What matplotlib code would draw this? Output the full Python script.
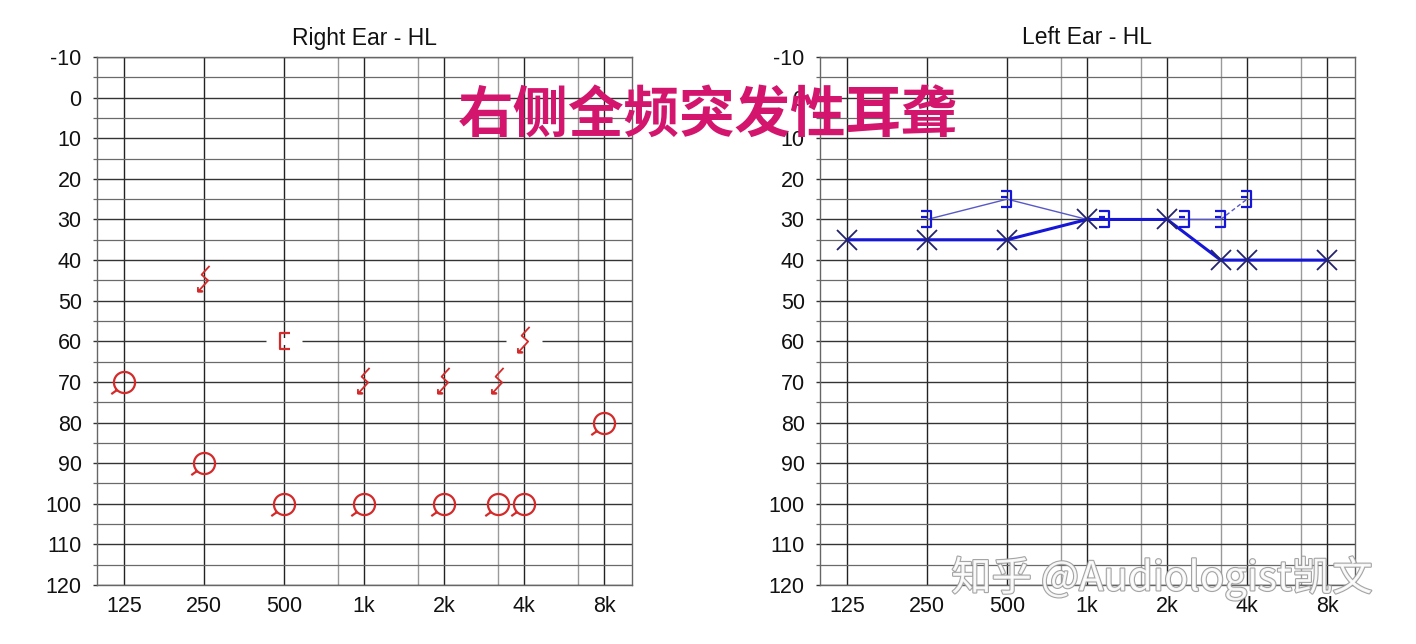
import numpy as np
import matplotlib
matplotlib.use('Agg')
import matplotlib.pyplot as plt
from matplotlib.path import Path
import matplotlib.transforms as mtransforms
import matplotlib.patheffects as pe

# ---- data ----
oct_freqs = [125, 250, 500, 1000, 2000, 4000, 8000]
oct_labels = ['125', '250', '500', '1k', '2k', '4k', '8k']
mid_freqs = [750, 1500, 3000, 6000]

# right ear (red)
r_ac_f = [125, 250, 500, 1000, 2000, 3000, 4000, 8000]
r_ac_db = [70, 90, 100, 100, 100, 100, 100, 80]
r_bc_nr_f = [250, 1000, 2000, 3000, 4000]
r_bc_nr_db = [45, 70, 70, 70, 60]
r_bc_m_f = [500]
r_bc_m_db = [60]

# left ear (blue)
l_ac_f = [125, 250, 500, 1000, 2000, 3000, 4000, 8000]
l_ac_db = [35, 35, 35, 30, 30, 40, 40, 40]
l_bc_f = [250, 500, 1000, 2000, 3000, 4000]
l_bc_db = [30, 25, 30, 30, 30, 25]
l_bc_shift = [False, False, True, True, False, False]   # drawn beside the X

title_txt = '右侧全频突发性耳聋'
mark_txt = '知乎 @Audiologist凯文'

RED = '#d42a2a'
BLUE = '#1616d8'
NAVY = '#23236e'


def xpos(f):
    # audiogram x scale: octaves 1 apart, half-octave lines drawn at 2/3
    o = np.log2(np.asarray(f, dtype=float) / 125.0)
    base = np.floor(o + 1e-9)
    return np.where(np.isclose(o, base), o, base + 0.67)


# custom marker shapes
circ = Path.unit_circle()
tail = Path([(-0.72, -0.72), (-1.25, -1.1)], [Path.MOVETO, Path.LINETO])
o_marker = Path.make_compound_path(circ, tail)

zig_marker = Path([(0.35, 1.0), (-0.2, 0.4), (0.25, 0.0), (-0.25, -0.55),
                   (-0.45, -0.75), (-0.15, -0.75), (-0.45, -0.75), (-0.45, -0.45)],
                  [Path.MOVETO] + [Path.LINETO] * 7)
lbr_marker = Path([(0.45, 0.6), (-0.3, 0.6), (-0.3, -0.6), (0.45, -0.6)],
                  [Path.MOVETO] + [Path.LINETO] * 3)
rbr_marker = Path([(-0.45, 0.6), (0.3, 0.6), (0.3, -0.6), (-0.45, -0.6),
                   (-0.45, 0.15), (0.0, 0.15)],
                  [Path.MOVETO, Path.LINETO, Path.LINETO, Path.LINETO,
                   Path.MOVETO, Path.LINETO])

plt.rcParams['font.family'] = ['Liberation Sans', 'DejaVu Sans']
plt.rcParams['axes.unicode_minus'] = False

fig = plt.figure(figsize=(14.16, 6.44), dpi=100)
ax_r = fig.add_axes([97 / 1416, 59 / 644, 535 / 1416, 528 / 644])
ax_l = fig.add_axes([820 / 1416, 59 / 644, 535 / 1416, 528 / 644])


def setup(ax, title):
    ax.set_xlim(-0.34, 6.35)
    ax.set_ylim(120, -10)
    ax.set_xticks(xpos(oct_freqs))
    ax.set_xticklabels(oct_labels)
    ax.set_xticks(xpos(mid_freqs), minor=True)
    ax.set_yticks(np.arange(-10, 121, 10))
    ax.set_yticks(np.arange(-5, 120, 10), minor=True)
    ax.grid(which='major', axis='x', color='#222222', lw=1.0)
    ax.grid(which='minor', axis='x', color='#9a9a9a', lw=1.0)
    ax.grid(which='major', axis='y', color='#333333', lw=1.0)
    ax.grid(which='minor', axis='y', color='#6a6a6a', lw=0.9)
    ax.set_axisbelow(True)
    ax.tick_params(axis='x', which='both', length=0, pad=8, labelsize=15.5,
                   colors='#111111')
    ax.tick_params(axis='y', which='major', length=3, width=1, pad=8,
                   labelsize=15.5, colors='#111111')
    ax.tick_params(axis='y', which='minor', length=3, width=0.9, color='#6a6a6a')
    ax.tick_params(axis='y', which='major', color='#333333')
    for s in ax.spines.values():
        s.set_color('#666666')
        s.set_linewidth(1.0)
    ax.set_title(title, fontsize=16.5, color='#111111', pad=9)


setup(ax_r, 'Right Ear - HL')
setup(ax_l, 'Left Ear - HL')

# ---- right ear ----
ax_r.plot(xpos(r_bc_m_f + [4000]), r_bc_m_db + [60], ls='none', marker='_',
          ms=26, mew=5, color='white', zorder=3)
ax_r.plot(xpos(r_ac_f), r_ac_db, ls='none', marker=o_marker, ms=19,
          mfc='none', mec=RED, mew=1.6, zorder=4)
ax_r.plot(xpos(r_bc_nr_f), r_bc_nr_db, ls='none', marker=zig_marker, ms=21,
          mfc='none', mec=RED, mew=1.3, zorder=4)
ax_r.plot(xpos(r_bc_m_f), r_bc_m_db, ls='none', marker=lbr_marker, ms=12,
          mfc='none', mec=RED, mew=1.6, zorder=4)

# ---- left ear ----
ax_l.plot(xpos(l_ac_f), l_ac_db, color=BLUE, lw=2.2, marker='x', ms=14,
          mec=NAVY, mew=1.3, zorder=4)
bc_x = xpos(l_bc_f)
ax_l.plot(bc_x[:-1], l_bc_db[:-1], color='#5858c8', lw=1.0, zorder=3)
ax_l.plot(bc_x[-2:], l_bc_db[-2:], color='#5858c8', lw=1.0, ls=(0, (3, 2)),
          zorder=3)
shift_tr = mtransforms.offset_copy(ax_l.transData, fig=fig, x=18, y=0,
                                   units='dots')
for xx, yy, sh in zip(bc_x, l_bc_db, l_bc_shift):
    ax_l.plot([xx], [yy], ls='none', marker=rbr_marker, ms=12, mfc='none',
              mec=BLUE, mew=1.6, zorder=5,
              transform=shift_tr if sh else ax_l.transData)

# ---- overlay texts ----
fig.text(708 / 1416, 1 - 117 / 644, title_txt, ha='center', va='center',
         fontsize=40, color='#d3156e', fontweight='bold',
         family=['Noto Sans CJK SC', 'DejaVu Sans'])
fig.text(1162 / 1416, 1 - 578 / 644, mark_txt, ha='center', va='center',
         fontsize=29, color='white', alpha=0.9,
         family=['Noto Sans CJK SC', 'DejaVu Sans'],
         path_effects=[pe.withStroke(linewidth=1.6, foreground='#9a9a9a')])

fig.savefig('out.png', dpi=100)
